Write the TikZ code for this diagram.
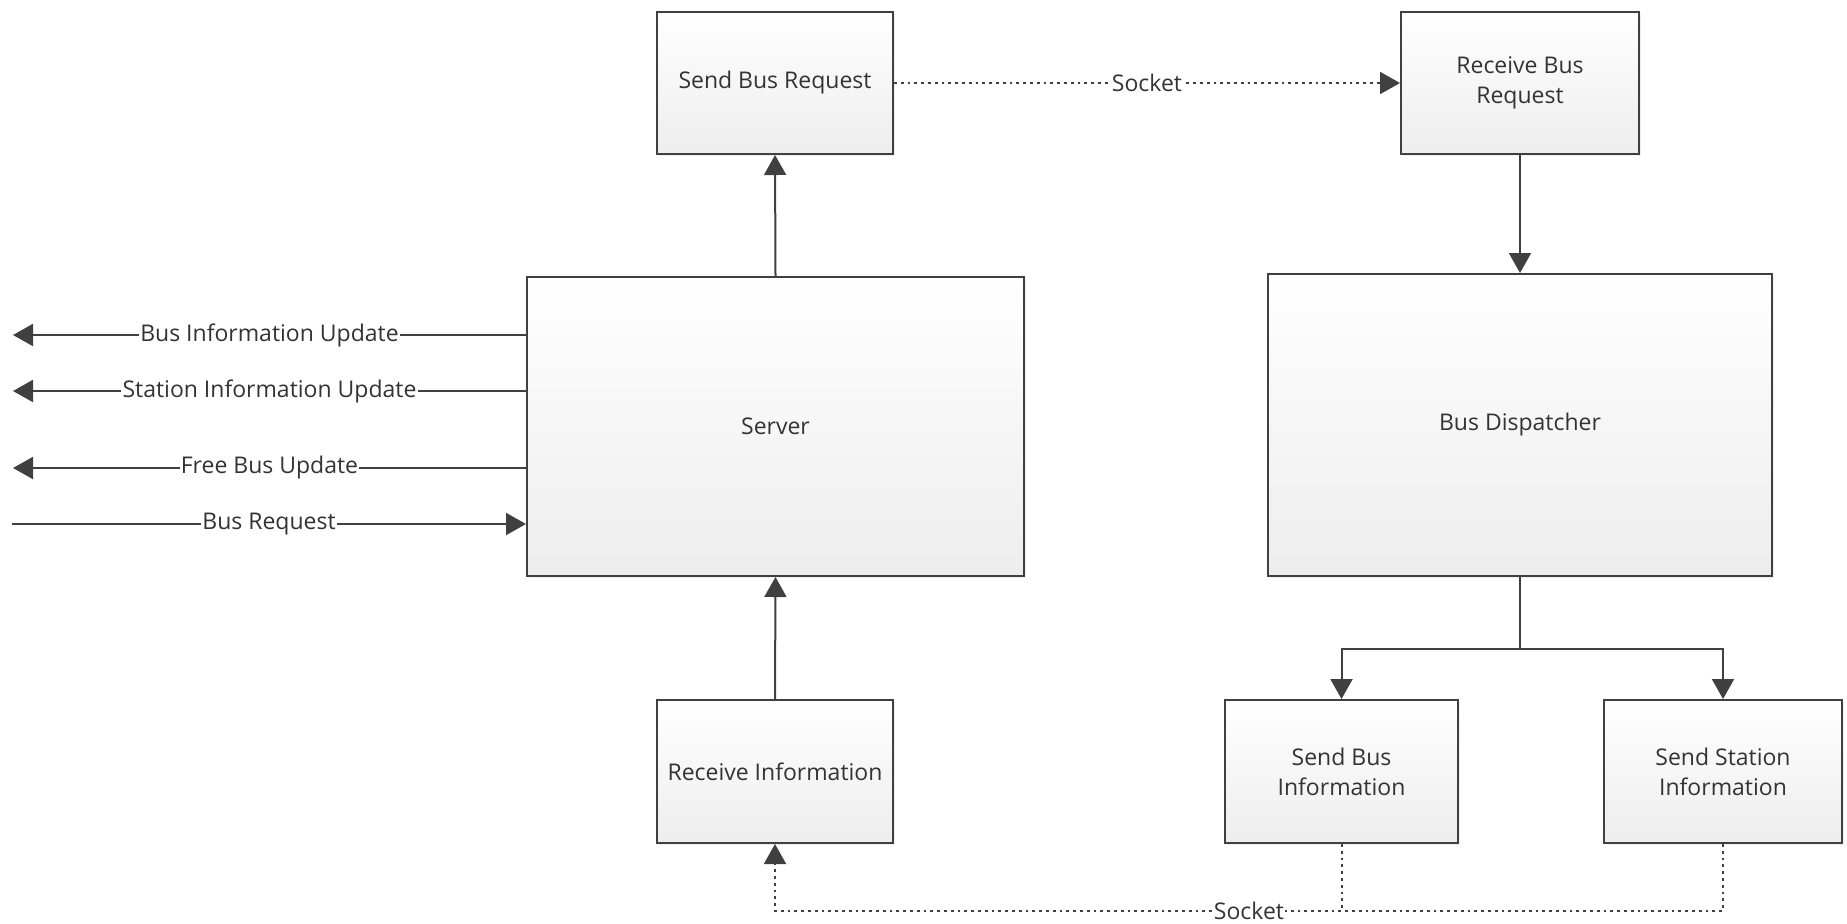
\documentclass[tikz,border=0pt]{standalone}
\usepackage{fontspec}
\setmainfont{Open Sans}
\usetikzlibrary{arrows.meta,shadows}
\begin{document}
\begin{tikzpicture}[x=0.5pt,y=-0.5pt,
  txt/.style={font=\fontsize{11.5}{15}\selectfont, text=black!80},
  blk/.style={txt, draw=black!75, line width=1pt, top color=white, bottom color=black!7, align=center, inner sep=2pt,
    drop shadow={shadow xshift=1.2pt, shadow yshift=-1.2pt, opacity=0.12}},
  tip/.style={-{Triangle[length=10pt,width=11pt]}},
  conn/.style={draw=black!75, line width=1pt, tip},
  sockline/.style={draw=black!75, line width=1pt, dash pattern=on 1.4pt off 2pt},
  sock/.style={sockline, tip},
  lbl/.style={txt, fill=white, inner sep=0.6pt}
]
\useasboundingbox (0,0) rectangle (1847,923);
\fill[white] (0,0) rectangle (1847,923);

\node[blk, minimum width=118pt, minimum height=71pt] (sbr) at (775,83) {Send Bus Request};
\node[blk, minimum width=119pt, minimum height=71pt] (rbr) at (1520,83) {Receive Bus\\Request};
\node[blk, minimum width=248.5pt, minimum height=149.5pt] (server) at (775.5,426.5) {Server};
\node[blk, minimum width=252pt, minimum height=151pt] (disp) at (1520,425) {Bus Dispatcher};
\node[blk, minimum width=118pt, minimum height=71.5pt] (recv) at (775,771.5) {Receive Information};
\node[blk, minimum width=116.5pt, minimum height=71.5pt] (sbi) at (1341.5,771.5) {Send Bus\\Information};
\node[blk, minimum width=119pt, minimum height=71.5pt] (ssi) at (1723,771.5) {Send Station\\Information};

\coordinate (l1) at (13,335);
\coordinate (l2) at (13,391);
\coordinate (l3) at (13,468);
\coordinate (l4) at (12,524);
\coordinate (br) at (1520,649);
\coordinate (sy) at (0,911);

\draw[conn] (server.north) -- (sbr.south);
\draw[sock] (sbr.east) -- node[lbl]{Socket} (rbr.west);
\draw[conn] (rbr.south) -- (disp.north);
\draw[conn] (server.west |- l1) -- node[lbl]{Bus Information Update} (l1);
\draw[conn] (server.west |- l2) -- node[lbl]{Station Information Update} (l2);
\draw[conn] (server.west |- l3) -- node[lbl]{Free Bus Update} (l3);
\draw[conn] (l4) -- node[lbl]{Bus Request} (l4 -| server.west);
\draw[conn] (recv.north) -- (server.south);
\draw[conn] (disp.south) -- (br) -| (sbi.north);
\draw[conn] (br) -| (ssi.north);
\draw[sockline] (sbi.south) -- (sbi.south |- sy);
\draw[sock] (ssi.south) -- (ssi.south |- sy) -- node[lbl]{Socket} (recv.south |- sy) -- (recv.south);
\end{tikzpicture}
\end{document}
